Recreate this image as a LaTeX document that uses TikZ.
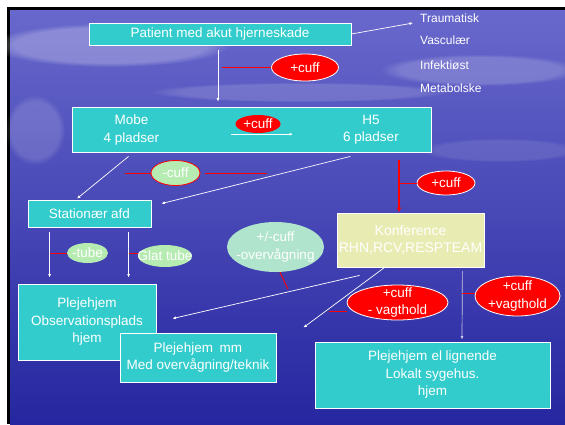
\documentclass[tikz,border=0pt]{standalone}
\usepackage{fontspec}
\setmainfont{Liberation Sans}
\usetikzlibrary{calc,shapes.geometric,arrows.meta,fadings}
\definecolor{slideteal}{RGB}{51,204,204}
\definecolor{konfyellow}{RGB}{232,236,178}
\definecolor{palegreen}{RGB}{182,236,178}
\definecolor{mintgreen}{RGB}{176,228,204}
\definecolor{paleline}{RGB}{200,200,235}
\definecolor{seatop}{RGB}{104,104,204}
\definecolor{seamid}{RGB}{56,56,172}
\definecolor{seabot}{RGB}{38,38,160}
\def\oval[#1](#2)(#3)(#4:#5)#6{\node[ellipse,inner sep=0pt,minimum width=#4,minimum height=#5,#1] (#2) at (#3) {}; \node[txt] (#2-t) at (#2) {#6};}

\begin{document}
\begin{tikzpicture}[x=1pt,y=-1pt,
    txt/.style={text=white,align=center,inner sep=0pt,font=\fontsize{13.5}{17.5}\selectfont},
    box/.style={txt,draw=white,line width=0.8pt,fill=slideteal},
    side/.style={text=white,anchor=west,inner sep=0pt,font=\fontsize{12}{14}\selectfont},
    ln/.style={draw=white,line width=0.7pt,-{Latex[length=3.5pt,width=3pt]}},
    redln/.style={draw=red,line width=0.9pt},
    redarr/.style={draw=red,line width=1.5pt,-{Latex[length=5pt,width=4.5pt]}},
    redoval/.style={fill=red,draw=white,line width=0.8pt},
    cloud/.style={fill=white,path fading=circle with fuzzy edge 20 percent}]
			%%%%% START %%%%%
			
			\useasboundingbox (0,0) rectangle (565,424);
			\fill[white] (0,0) rectangle (565,424);
			\fill[black] (7,7) rectangle (565,424);
			\shade[top color=seatop, middle color=seamid, bottom color=seabot] (10,10) rectangle (565,424);
			\fill[cloud,opacity=0.25] (110,45) ellipse (120 and 22);
			\fill[cloud,opacity=0.18] (480,70) ellipse (100 and 16);
			\fill[cloud,opacity=0.15] (35,130) ellipse (30 and 35);
			\fill[cloud,opacity=0.15] (300,92) ellipse (150 and 10);
			\fill[cloud,opacity=0.1] (500,150) ellipse (80 and 12);
			
			\node[box,minimum width=262,minimum height=22] (pat) at (220,34) {Patient med akut hjerneskade};
			
			\node[side] (trau) at (420,18) {Traumatisk};
			\node[side] (vasc) at (420,40) {Vasculær};
			\node[side] (infek) at (420,65) {Infektiøst};
			\node[side] (metab) at (420,88) {Metabolske};
			
			\node[box,minimum width=359,minimum height=45] (mobe) at (251.5,129.5) {};
			\node[txt] (mobeL) at (131.5,130) {Mobe\\4 pladser};
			\node[txt] (hfemR) at (371,130) {H5\\6 pladser};
			\oval[fill=red](cuffB)(258,124)(45:18){+cuff}
			
			\oval[redoval](cuffA)(305,67.5)(67:27){+cuff}
			\oval[fill=palegreen,draw=red,line width=0.8pt](minuscuff)(175.5,173)(49:25){-cuff}
			\oval[redoval](cuffC)(446,183)(58:24){+cuff}
			
			\node[box,minimum width=123,minimum height=27] (stat) at (89.5,213.5) {Stationær afd};
			\oval[fill=palegreen](tube)(87.5,253)(41:20){-tube}
			\oval[fill=palegreen](glat)(165,256)(54:22){Glat tube}
			\oval[fill=mintgreen](overv)(275.5,247)(97:50){+/-cuff\\-overvågning}
			
			\node[box,fill=konfyellow,minimum width=147,minimum height=54,font=\fontsize{14}{17}\selectfont] (konf) at (410.5,240) {Konference\\RHN,RCV,RESPTEAM};
			\oval[redoval](cuffVm)(397.5,302.5)(101:35){+cuff\\- vagthold}
			\oval[redoval](cuffVp)(517.5,296)(85:40){+cuff\\+vagthold}
			
			\node[box,minimum width=138,minimum height=76] (obs) at (87,322) {Plejehjem\\Observationsplads\\hjem};
			\node[box,minimum width=156,minimum height=49] (ovtek) at (198,357.5) {Plejehjem\hspace{0.5em}mm\\Med overvågning/teknik};
			\node[box,minimum width=235,minimum height=66] (lokal) at (432.5,375) {Plejehjem\hspace{0.3em}el lignende\\Lokalt sygehus.\\hjem};
			
			% connectors
			\draw[ln] (pat.east) -- ([shift={(-7,5)}]trau.west);
			\draw[ln,shorten <=5pt,shorten >=5pt] ([xshift=-2pt]pat.south) -- ([xshift=-2pt]pat.south |- mobe.north);
			\draw[redln] (cuffA.west) -- ++(-49,0);
			\draw[ln] ([shift={(-27,1)}]cuffB.south) -- ([shift={(35,1)}]cuffB.south);
			
			\draw[ln] ([shift={(57,4)}]mobe.south west) -- ([shift={(-12.5,-1)}]stat.north);
			\draw[ln] ([shift={(-81,4)}]mobe.south east) -- ([shift={(10,4)}]stat.north east);
			\draw[redln] (minuscuff.west) -- ++(-26,0);
			\draw[redln] ([xshift=5pt]minuscuff.east) -- ++(62,0);
			\draw[redarr] ([shift={(-11.5,-53)}]konf.north) -- ([xshift=-11.5pt]konf.north);
			\draw[redln] (cuffC.west) -- ++(-18,0);
			
			\draw[ln] ([shift={(22,5)}]stat.south west) -- ([shift={(32,-6)}]obs.north west);
			\draw[ln] ([shift={(101,5)}]stat.south west) -- ([shift={(111,-6)}]obs.north west);
			\draw[redln] (tube.west) -- ++(-17,0);
			\draw[redln] ([shift={(0,-3)}]glat.west) -- ++(-9,0);
			\draw[redln] ([xshift=4.5pt]overv.south) -- ++(8,17);
			
			\draw[ln] ([shift={(23,8)}]konf.south west) -- ([shift={(16,35)}]obs.north east);
			\draw[ln] ([xshift=48pt]konf.south west) -- ([shift={(27,-5)}]ovtek.north east);
			\draw[redln] ([shift={(0,8.5)}]cuffVm.west) -- ++(-18,0);
			\draw[ln,draw=paleline] ([shift={(-22,4)}]konf.south east) -- ([shift={(29.5,-2)}]lokal.north);
			\draw[redln] ([shift={(0,-3)}]cuffVp.west) -- ++(-13,0);
			
			%%%%% END %%%%%
\end{tikzpicture}
\end{document}
